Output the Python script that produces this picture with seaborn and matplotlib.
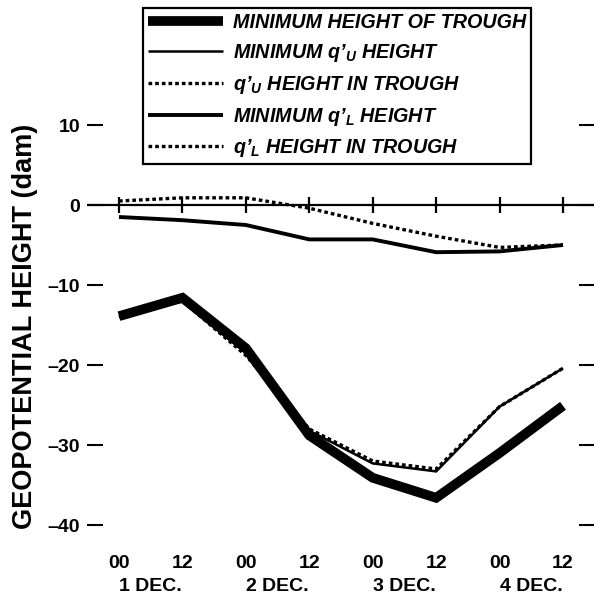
import matplotlib
matplotlib.use("Agg")
import matplotlib.pyplot as plt
import seaborn as sns
import pandas as pd
import numpy as np

# ---- data ----
times = ["00", "12", "00", "12", "00", "12", "00", "12"]
days = ["1 DEC.", "2 DEC.", "3 DEC.", "4 DEC."]
min_trough = [-13.9, -11.6, -17.9, -28.8, -34.1, -36.6, -31.0, -25.1]
min_qU = [-14.0, -12.0, -18.5, -28.2, -32.3, -33.3, -25.2, -20.4]
qU_trough = [-14.0, -12.0, -18.8, -28.0, -32.0, -33.0, -25.2, -20.4]
min_qL = [-1.5, -1.9, -2.5, -4.3, -4.3, -5.9, -5.8, -5.0]
qL_trough = [0.5, 0.9, 0.9, -0.4, -2.3, -3.9, -5.3, -5.0]
yticks = [10, 0, -10, -20, -30, -40]

labels = ["MINIMUM HEIGHT OF TROUGH",
          "MINIMUM q\u2019${}_{U}$ HEIGHT",
          "q\u2019${}_{U}$ HEIGHT IN TROUGH",
          "MINIMUM q\u2019${}_{L}$ HEIGHT",
          "q\u2019${}_{L}$ HEIGHT IN TROUGH"]

sns.set_style("white")
plt.rcParams['font.family'] = ['Liberation Sans', 'DejaVu Sans']
plt.rcParams['font.weight'] = 'bold'
plt.rcParams['text.color'] = 'black'
plt.rcParams['axes.labelcolor'] = 'black'
plt.rcParams['xtick.color'] = 'black'
plt.rcParams['ytick.color'] = 'black'
plt.rcParams['mathtext.fontset'] = 'custom'
plt.rcParams['mathtext.it'] = 'Liberation Sans:italic:bold'
plt.rcParams['mathtext.rm'] = 'Liberation Sans:italic:bold'
plt.rcParams['mathtext.default'] = 'it'

fig = plt.figure(figsize=(5.94, 5.95), dpi=100)
ax = fig.add_axes([87/594, 1 - 548/595, 508/594, 463/595])

x = np.arange(len(times))
df = pd.DataFrame({"x": x, "trough": min_trough, "qU": min_qU, "qUt": qU_trough,
                   "qL": min_qL, "qLt": qL_trough})

styles = [
    ("trough", 7.0, "-"),
    ("qU", 1.8, "-"),
    ("qUt", 2.4, (0, (1.1, 0.9))),
    ("qL", 2.8, "-"),
    ("qLt", 2.4, (0, (1.1, 0.9))),
]
for (col, lw, ls), lab in zip(styles, labels):
    sns.lineplot(data=df, x="x", y=col, ax=ax, color="black", lw=lw,
                 linestyle=ls, label=lab, legend=False,
                 solid_joinstyle="miter", solid_capstyle="butt")

# zero line with time ticks
ax.axhline(0, color="black", lw=1.6, zorder=1)
ax.vlines(x, -1, 1, color="black", lw=1.6)

ax.set_xlim(-0.5045, 7.5045)
ax.set_ylim(-42.875, 15)
for s in ax.spines.values():
    s.set_visible(False)

ax.set_yticks(yticks)
ax.set_yticklabels([str(v).replace("-", "\u2013") for v in yticks])
ax.tick_params(axis="y", which="major", direction="in", length=11.5, width=1.5,
               left=True, right=True, labelleft=True, labelright=False,
               pad=5, labelsize=14)

ax.set_xticks(x)
ax.set_xticklabels(times, fontsize=14, fontweight="bold")
ax.set_xticks(x[::2] + 0.5, minor=True)
ax.set_xticklabels(days, minor=True, fontsize=14, fontweight="bold")
ax.tick_params(axis="x", which="major", length=0, pad=5.0)
ax.tick_params(axis="x", which="minor", length=0, pad=21.5)
ax.set_xlabel("")

ax.set_ylabel("GEOPOTENTIAL HEIGHT (dam)", fontsize=19.5, fontweight="bold")
ax.yaxis.set_label_coords(-0.096, 0.478)

handles = ax.get_lines()[:5]
leg = fig.legend(handles, labels, loc="upper left",
                 bbox_to_anchor=(143/594, 1 - 8/595), bbox_transform=fig.transFigure,
                 fancybox=False, frameon=True, edgecolor="black", framealpha=1,
                 borderpad=0.25, handlelength=3.8, handletextpad=0.5,
                 labelspacing=0.5, borderaxespad=0,
                 prop={"weight": "bold", "style": "italic", "size": 14.2})
leg.get_frame().set_linewidth(1.6)

fig.savefig("out.png", dpi=100, facecolor="white")
